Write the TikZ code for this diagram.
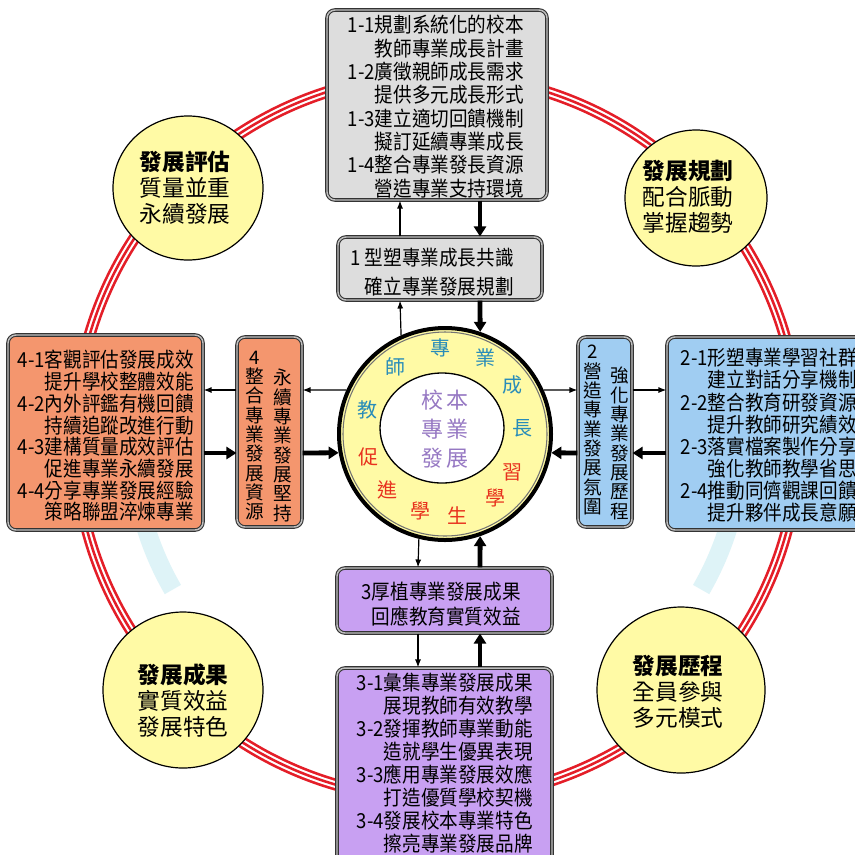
\documentclass[tikz,border=0pt]{standalone}
\usepackage{fontspec}
\newfontfamily\cjk{Noto Sans CJK TC}
\newfontfamily\cjkn[FakeStretch=0.9]{Noto Sans CJK TC}
\usetikzlibrary{arrows.meta,shapes.geometric,fit}
\definecolor{ringred}{RGB}{228,30,40}
\definecolor{cyanfade}{RGB}{222,243,247}
\definecolor{cyell}{RGB}{255,250,165}
\definecolor{bgray}{RGB}{221,221,221}
\definecolor{borange}{RGB}{244,150,110}
\definecolor{bblue}{RGB}{160,205,242}
\definecolor{bpurple}{RGB}{200,160,242}
\definecolor{tblue}{RGB}{40,140,185}
\definecolor{tred}{RGB}{232,50,30}
\definecolor{tpurple}{RGB}{150,120,195}
\newcommand\fsz[2]{\fontsize{#1}{#2}\selectfont}
\begin{document}
\begin{tikzpicture}[x=0.75pt,y=-0.75pt,
  box/.style={draw=black!80, double=white!75!black, double distance=1.1pt, line width=0.8pt, rounded corners=6pt, inner sep=0pt},
  btxt/.style={align=right, inner sep=0pt, anchor=east},
  vtxt/.style={align=center, inner sep=0pt, font=\cjk\fsz{14pt}{14.5pt}},
  ctxt/.style={align=center, inner sep=0pt, font=\cjk\fsz{17pt}{19.5pt}},
  corner/.style={ellipse, draw=black, line width=0.9pt, fill=cyell, inner sep=0pt},
  thinarr/.style={line width=0.9pt, -{Latex[length=6pt,width=4.5pt]}},
  thickarr/.style={line width=3.6pt, -{Triangle[length=7.5pt,width=9pt]}},
  rch/.style={inner sep=0pt, font=\cjk\fsz{15pt}{15pt}}]
\useasboundingbox (0,0) rectangle (855,854);
\clip (0,0) rectangle (855,854);
\fill[white] (0,0) rectangle (855,854);
% faint cyan arcs
\draw[cyanfade, line width=14pt] (437,437) ++(12:305) arc (12:30:305);
\draw[cyanfade, line width=14pt] (437,437) ++(150:305) arc (150:168:305);
% red triple ring
\draw[ringred, line width=9pt] (437,437) circle (362);
\draw[white, line width=5pt] (437,437) circle (362);
\draw[ringred, line width=1.9pt] (437,437) circle (362);
% corner circles
\node[corner, minimum width=112.5pt, minimum height=108pt] (c1) at (188,188) {};
\node[corner, minimum width=106.5pt, minimum height=102pt] (c2) at (696,198) {};
\node[corner, minimum width=120pt, minimum height=117pt] (c3) at (183,690) {};
\node[corner, minimum width=126pt, minimum height=124.5pt] (c4) at (681,690) {};
\node[ctxt] (c1t) at (185,187.5) {\textbf{發展評估}\\質量並重\\永續發展};
\node[ctxt] (c2t) at (688,197) {\textbf{發展規劃}\\配合脈動\\掌握趨勢};
\node[ctxt] (c3t) at (183,701) {\textbf{發展成果}\\實質效益\\發展特色};
\node[ctxt] (c4t) at (678,691.5) {\textbf{發展歷程}\\全員參與\\多元模式};
% boxes
\node[box, fill=bgray, fit={(327,10) (547,200)}] (b11) {};
\node[box, fill=bgray, fit={(338,237) (542,300)}] (b1) {};
\node[box, fill=borange, fit={(8,335) (203,530)}] (b4x) {};
\node[box, fill=borange, fit={(237,337) (302,527)}] (b4) {};
\node[box, fill=bblue, fit={(578,337) (632,527)}] (b2) {};
\node[box, fill=bblue, fit={(667,337) (885,530)}] (b2x) {};
\node[box, fill=bpurple, fit={(337,568) (552,633)}] (b3) {};
\node[box, fill=bpurple, fit={(337,668) (552,885)}] (b3x) {};
% box texts
\node[btxt, font=\cjkn\fsz{15.5pt}{17.5pt}] (t11) at (524,106.5) {1-1規劃系統化的校本\\教師專業成長計畫\\1-2廣徵親師成長需求\\提供多元成長形式\\1-3建立適切回饋機制\\擬訂延續專業成長\\1-4整合專業發長資源\\營造專業支持環境};
\node[btxt, font=\cjkn\fsz{15.5pt}{21.75pt}] (t1) at (514,272.5) {1 型塑專業成長共識\\確立專業發展規劃};
\node[btxt, font=\cjkn\fsz{15.5pt}{16.3pt}] (t4x) at (194,436) {4-1客觀評估發展成效\\提升學校整體效能\\4-2內外評鑑有機回饋\\持續追蹤改進行動\\4-3建構質量成效評估\\促進專業永續發展\\4-4分享專業發展經驗\\策略聯盟淬煉專業};
\node[btxt, font=\cjkn\fsz{15.5pt}{16.6pt}] (t2x) at (857,435.5) {2-1形塑專業學習社群\\建立對話分享機制\\2-2整合教育研發資源\\提升教師研究績效\\2-3落實檔案製作分享\\強化教師教學省思\\2-4推動同儕觀課回饋\\提升夥伴成長意願};
\node[btxt, font=\cjkn\fsz{15.5pt}{18.75pt}] (t3) at (521,604.5) {3厚植專業發展成果\\回應教育實質效益};
\node[btxt, font=\cjkn\fsz{15.5pt}{17.2pt}] (t3x) at (533,763) {3-1彙集專業發展成果\\展現教師有效教學\\3-2發揮教師專業動能\\造就學生優異表現\\3-3應用專業發展效應\\打造優質學校契機\\3-4發展校本專業特色\\擦亮專業發展品牌};
\node[vtxt] (t4a) at (255,435.5) {4\\整\\合\\專\\業\\發\\展\\資\\源};
\node[vtxt] (t4b) at (283,445.5) {永\\續\\專\\業\\發\\展\\堅\\持};
\node[vtxt] (t2a) at (593,430) {2\\營\\造\\專\\業\\發\\展\\氛\\圍};
\node[vtxt] (t2b) at (620,443.5) {強\\化\\專\\業\\發\\展\\歷\\程};
% core circle
\node[circle, draw=black, line width=3pt, fill=cyell, minimum size=159pt] (core) at (445,434) {};
\draw[black!55, line width=0.8pt] (core.center) circle (102);
\node[ellipse, draw=black, line width=1pt, fill=white, minimum width=93pt, minimum height=82.5pt] (inner) at (442,428) {};
\node[align=center, inner sep=0pt, text=tpurple, font=\cjk\fsz{16.5pt}{21.75pt}] (ctext) at (445,429) {校\kern3pt本\\專\kern3pt業\\發\kern3pt展};
% ring characters
\node[rch, text=tblue] (r1) at (367,410) {教};
\node[rch, text=tblue] (r2) at (395,367) {師};
\node[rch, text=tblue] (r3) at (440,348) {專};
\node[rch, text=tblue] (r4) at (485,358) {業};
\node[rch, text=tblue] (r5) at (512,385) {成};
\node[rch, text=tblue] (r6) at (522,428) {長};
\node[rch, text=tred] (r7) at (368,457) {促};
\node[rch, text=tred] (r8) at (387,490) {進};
\node[rch, text=tred] (r9) at (420,511) {學};
\node[rch, text=tred] (r10) at (457,516) {生};
\node[rch, text=tred] (r11) at (495,498) {學};
\node[rch, text=tred] (r12) at (512,472) {習};
% helper coordinates
\coordinate (xa) at (400,0);
\coordinate (xb) at (480,0);
\coordinate (xc) at (418,0);
\coordinate (ya) at (0,390);
\coordinate (yb) at (0,453);
% top arrows
\draw[thinarr] (b1.north -| xa) -- (b11.south -| xa);
\draw[thickarr] (b11.south -| xb) -- (b1.north -| xb);
\draw[thinarr] (core.114.6) -- (b1.south -| xa);
\draw[thickarr] (b1.south -| xb) -- (core.71.1);
% left arrows
\draw[thinarr] (core.156) -- (b4.east |- ya);
\draw[thinarr] (b4.west |- ya) -- (b4x.east |- ya);
\draw[thickarr] (b4x.east |- yb) -- (b4.west |- yb);
\draw[thickarr] (b4.east |- yb) -- (core.190.1);
% right arrows
\draw[thinarr] (core.24) -- (b2.west |- ya);
\draw[thinarr] (b2.east |- ya) -- (b2x.west |- ya);
\draw[thickarr] (b2x.west |- yb) -- (b2.east |- yb);
\draw[thickarr] (b2.west |- yb) -- (core.-10.1);
% bottom arrows
\draw[thinarr] (core.-104.5) -- (b3.north -| xc);
\draw[thickarr] (b3.north -| xb) -- (core.-71.1);
\draw[thinarr] (b3.south -| xc) -- (b3x.north -| xc);
\draw[thickarr] (b3x.north -| xb) -- (b3.south -| xb);
\end{tikzpicture}
\end{document}
